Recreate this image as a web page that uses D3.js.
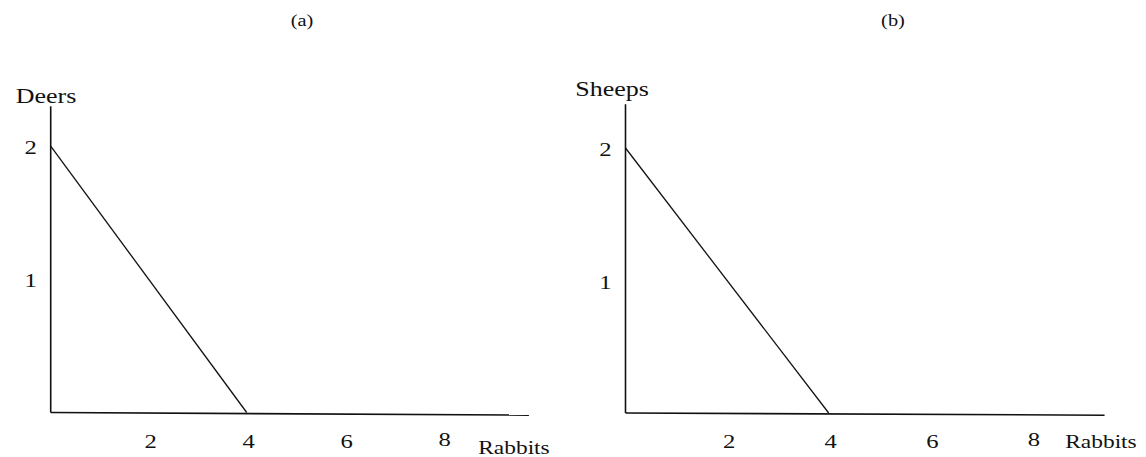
<!DOCTYPE html>
<html>
<head>
<meta charset="utf-8">
<script src="https://cdn.jsdelivr.net/npm/d3@7"></script>
<style>
  html, body { margin: 0; padding: 0; background: #fff; }
  svg { display: block; }
  text { font-family: "Liberation Serif", "Times New Roman", serif; fill: #111; }
</style>
</head>
<body>
<svg id="chart" width="1146" height="457"></svg>
<script>
// Panel titles and the good shown on each vertical axis
const panelTitles = ["(a)", "(b)"];
const yAxisNames = ["Deers", "Sheeps"];
const xAxisName = "Rabbits";

// Tick labels
const xTickValues = [2, 4, 6, 8];
const yTickValues = [1, 2];

// Production frontier endpoints (rabbits, other good)
const frontierA = [{ x: 0, y: 2 }, { x: 4, y: 0 }];
const frontierB = [{ x: 0, y: 2 }, { x: 4, y: 0 }];
const frontiers = [frontierA, frontierB];

// Axis extents in data units
const xMax = [9.76, 9.43];
const yMax = [2.3, 2.33];

// Pixel layout for each panel
const layout = [
  { left: 50.7, unitX: 49.0, base: 412.5, unitY: 133.2, title: [302, 20],
    yName: [46, 103], xName: [514, 454], slope: 2.6, stretch: 1.3 },
  { left: 625.5, unitX: 50.8, base: 413, unitY: 132.5, title: [893, 20],
    yName: [612, 96], xName: [1101, 448], slope: 2.2, stretch: 1.3 }
];

const svg = d3.select("#chart");

function stretchedText(g, str, x, y, size, sx) {
  return g.append("text")
    .attr("transform", `translate(${x},${y}) scale(${sx},1)`)
    .attr("text-anchor", "middle")
    .attr("font-size", size)
    .text(str);
}

layout.forEach((L, i) => {
  const x = d3.scaleLinear().domain([0, 1]).range([L.left, L.left + L.unitX]);
  const y = d3.scaleLinear().domain([0, 1]).range([L.base, L.base - L.unitY]);
  const g = svg.append("g");

  // vertical axis
  g.append("line")
    .attr("x1", x(0)).attr("x2", x(0))
    .attr("y1", y(0)).attr("y2", y(yMax[i]))
    .attr("stroke", "#111").attr("stroke-width", 1.6);

  // horizontal axis (drawn with a faint downward drift)
  g.append("line")
    .attr("x1", x(0)).attr("x2", x(xMax[i]))
    .attr("y1", y(0)).attr("y2", y(0) + L.slope)
    .attr("stroke", "#111").attr("stroke-width", 1.6);

  // frontier
  g.append("path")
    .datum(frontiers[i])
    .attr("d", d3.line().x(d => x(d.x)).y(d => y(d.y)))
    .attr("fill", "none")
    .attr("stroke", "#111").attr("stroke-width", 1.3);

  // x tick labels
  xTickValues.forEach(v => {
    stretchedText(g, String(v), x(v) + 2, y(0) + 35 - (v === 8 ? 2 : 0), 19, L.stretch);
  });

  // y tick labels
  yTickValues.forEach(v => {
    stretchedText(g, String(v), x(0) - 20, y(v) + 8, 19, L.stretch);
  });

  // axis names
  stretchedText(g, yAxisNames[i], L.yName[0], L.yName[1], 20, L.stretch);
  stretchedText(g, xAxisName, L.xName[0], L.xName[1], 18, L.stretch);

  // panel title
  stretchedText(g, panelTitles[i], L.title[0], L.title[1] + 6, 17, 1.2);
});
</script>
</body>
</html>
